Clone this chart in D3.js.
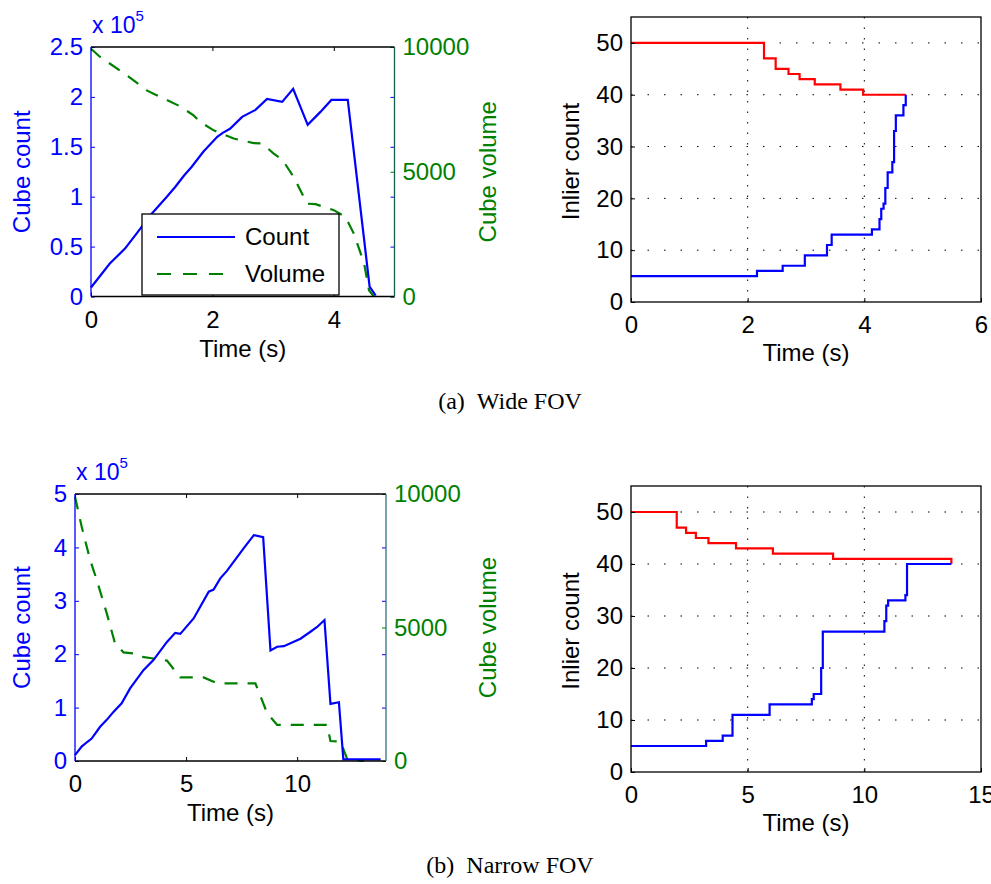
<!DOCTYPE html>
<meta charset="utf-8">
<style>
body { margin: 0; background: #fff; }
text { font-family: "Liberation Sans", Arial, sans-serif; }
.caption { font-family: "Liberation Serif", "Times New Roman", serif; font-size: 24px; }
</style>
<body>
<script src="https://d3js.org/d3.v7.min.js"></script>
<script>

// ---- data ----
// (a) wide FOV, cube count (x 10^5) and cube volume over time
var countTimeA = [0, 0.31, 0.56, 0.75, 1.0, 1.25, 1.39, 1.53, 1.66, 1.85, 2.08, 2.17, 2.29, 2.49, 2.71, 2.9, 3.15, 3.33, 3.57, 3.78, 3.96, 4.23, 4.59, 4.69];
var countA = [0.09, 0.33, 0.48, 0.63, 0.83, 1.0, 1.1, 1.21, 1.3, 1.45, 1.6, 1.64, 1.68, 1.8, 1.87, 1.98, 1.95, 2.08, 1.72, 1.85, 1.97, 1.97, 0.1, 0.01];
var volTimeA = [0, 0.15, 0.59, 0.92, 1.03, 1.47, 1.69, 1.8, 2.02, 2.35, 2.68, 2.82, 3.01, 3.15, 3.34, 3.56, 3.7, 4.0, 4.19, 4.33, 4.5, 4.58, 4.66];
var volA = [9930, 9600, 8870, 8260, 8130, 7620, 7260, 7000, 6660, 6330, 6150, 6130, 5730, 5490, 4790, 3720, 3700, 3460, 3190, 2520, 1320, 250, 0];

// (a) inlier counts (step after)
var redTimeB = [0, 2.28, 2.48, 2.70, 2.89, 3.15, 3.59, 3.98, 4.71];
var redB = [50, 47, 45, 44, 43, 42, 41, 40, 40];
var blueTimeB = [0, 2.16, 2.60, 2.98, 3.36, 3.44, 4.13, 4.26, 4.29, 4.33, 4.36, 4.40, 4.48, 4.51, 4.54, 4.67, 4.71];
var blueB = [5, 6, 7, 9, 11, 13, 14, 16, 18, 19, 22, 25, 27, 33, 36, 38, 40];

// (b) narrow FOV, cube count (x 10^5) and cube volume
var countTimeC = [0, 0.3, 0.56, 0.75, 1.13, 1.43, 1.73, 2.1, 2.48, 3.08, 3.53, 4.14, 4.51, 4.74, 5.34, 6.02, 6.24, 6.54, 6.84, 7.59, 8.05, 8.47, 8.8, 9.1, 9.4, 10.15, 10.6, 10.9, 11.23, 11.5, 11.88, 12.08, 13.76];
var countC = [0.11, 0.27, 0.36, 0.42, 0.64, 0.77, 0.92, 1.08, 1.36, 1.7, 1.89, 2.23, 2.4, 2.38, 2.67, 3.17, 3.21, 3.42, 3.56, 3.98, 4.23, 4.19, 2.07, 2.14, 2.15, 2.29, 2.42, 2.51, 2.64, 1.07, 1.1, 0.03, 0.03];
var volTimeC = [0, 0.3, 0.68, 0.98, 1.43, 1.8, 2.18, 2.63, 2.93, 3.68, 4.14, 4.74, 5.79, 6.39, 8.12, 8.65, 9.1, 11.35, 11.5, 11.95, 12.26, 13.0];
var volC = [9900, 8780, 7530, 6780, 5530, 4410, 4070, 4030, 3910, 3820, 3760, 3130, 3130, 2910, 2910, 1790, 1350, 1350, 750, 725, 60, 0];

// (b) inlier counts (step after)
var redTimeD = [0, 1.96, 2.36, 2.78, 3.32, 4.50, 6.08, 8.66, 13.73];
var redD = [50, 47, 46, 45, 44, 43, 42, 41, 40];
var blueTimeD = [0, 3.22, 3.93, 4.35, 5.94, 7.75, 7.83, 8.15, 8.22, 10.86, 10.94, 11.02, 11.76, 11.83, 13.73];
var blueD = [5, 6, 7, 11, 13, 14, 15, 20, 27, 29, 32, 33, 34, 40, 40];

// tick labels
var ticksXA = [0, 2, 4], ticksCountA = [0, 0.5, 1, 1.5, 2, 2.5];
var ticksXB = [0, 2, 4, 6], ticksInlier = [0, 10, 20, 30, 40, 50];
var ticksXC = [0, 5, 10], ticksCountC = [0, 1, 2, 3, 4, 5];
var ticksXD = [0, 5, 10, 15];
var ticksVol = [0, 5000, 10000];
var legendNames = ["Count", "Volume"];
var captions = ["(a)\u2002Wide FOV", "(b)\u2002Narrow FOV"];

var BLUE = "#0000ff", GREEN = "#008000", RED = "#ff0000";

var svg = d3.select("body").append("svg")
    .attr("width", 991)
    .attr("height", 884);

function zip(a, b) { return a.map(function(v, i) { return [v, b[i]]; }); }

function styleAxis(g, color) {
  g.select(".domain").remove();
  g.selectAll("line").attr("stroke", color);
  g.selectAll("text").attr("fill", color).attr("font-size", "24px")
    .attr("font-family", "Liberation Sans, Arial, sans-serif");
}

// ---- dual-axis panel (cube count / volume) ----
function dualPanel(box, xMax, xt, yMax, yt, tA, cA, tV, vA, rightColor, withLegend) {
  var w = box.r - box.l, h = box.b - box.t;
  var g = svg.append("g").attr("transform", "translate(" + box.l + "," + box.t + ")");
  var x = d3.scaleLinear().domain([0, xMax]).range([0, w]);
  var y = d3.scaleLinear().domain([0, yMax]).range([h, 0]);
  var y2 = d3.scaleLinear().domain([0, 10000]).range([h, 0]);

  var line = d3.line().x(function(d) { return x(d[0]); }).y(function(d) { return y(d[1]); });
  var line2 = d3.line().x(function(d) { return x(d[0]); }).y(function(d) { return y2(d[1]); });

  g.append("path").datum(zip(tV, vA)).attr("d", line2)
    .attr("fill", "none").attr("stroke", GREEN).attr("stroke-width", 2.2).attr("stroke-dasharray", "13,10");
  g.append("path").datum(zip(tA, cA)).attr("d", line)
    .attr("fill", "none").attr("stroke", BLUE).attr("stroke-width", 2.2);

  // axes
  g.append("g").attr("transform", "translate(0," + h + ")")
    .call(d3.axisBottom(x).tickValues(xt).tickSize(-4).tickPadding(14).tickFormat(d3.format("d")))
    .call(styleAxis, "#000");
  g.append("g").call(d3.axisTop(x).tickValues(xt).tickSize(-4).tickFormat(""))
    .call(styleAxis, "#000");
  g.append("g").call(d3.axisLeft(y).tickValues(yt).tickSize(-4).tickPadding(8).tickFormat(d3.format("")))
    .call(styleAxis, BLUE);
  g.append("g").attr("transform", "translate(" + w + ",0)")
    .call(d3.axisRight(y).tickValues(yt).tickSize(-4).tickFormat(""))
    .call(styleAxis, BLUE);
  g.append("g").attr("transform", "translate(" + w + ",0)")
    .call(d3.axisRight(y2).tickValues(ticksVol).tickSize(-4).tickPadding(8).tickFormat(d3.format("d")))
    .call(styleAxis, GREEN);

  // frame
  g.append("line").attr("x1", 0).attr("x2", w).attr("y1", 0).attr("y2", 0).attr("stroke", "#000").attr("stroke-width", 1.3);
  g.append("line").attr("x1", 0).attr("x2", w).attr("y1", h).attr("y2", h).attr("stroke", "#000").attr("stroke-width", 1.3);
  g.append("line").attr("x1", 0).attr("x2", 0).attr("y1", 0).attr("y2", h).attr("stroke", BLUE).attr("stroke-width", 1.3);
  g.append("line").attr("x1", w).attr("x2", w).attr("y1", 0).attr("y2", h).attr("stroke", rightColor).attr("stroke-width", 1.3);

  // exponent
  var ex = g.append("text").attr("x", 1).attr("y", -14).attr("fill", BLUE).style("font-size", "23px");
  ex.append("tspan").text("x 10");
  ex.append("tspan").attr("dy", -12).style("font-size", "15px").text("5");

  // labels
  g.append("text").attr("x", w / 2).attr("y", h + 60).attr("text-anchor", "middle")
    .attr("font-size", "24px").text("Time (s)");
  g.append("text").attr("transform", "translate(" + (-box.l + 30) + "," + (h / 2) + ") rotate(-90)")
    .attr("text-anchor", "middle").attr("font-size", "24px").attr("fill", BLUE).text("Cube count");
  g.append("text").attr("transform", "translate(" + (496 - box.l) + "," + (h / 2) + ") rotate(-90)")
    .attr("text-anchor", "middle").attr("font-size", "24px").attr("fill", GREEN).text("Cube volume");

  if (withLegend) {
    var lg = g.append("g").attr("transform", "translate(" + (142 - box.l) + "," + (214 - box.t) + ")");
    lg.append("rect").attr("width", 197).attr("height", 81)
      .attr("fill", "#fff").attr("stroke", "#000").attr("stroke-width", 1.3);
    lg.append("line").attr("x1", 15).attr("x2", 93).attr("y1", 23).attr("y2", 23)
      .attr("stroke", BLUE).attr("stroke-width", 2.2);
    lg.append("line").attr("x1", 15).attr("x2", 93).attr("y1", 60).attr("y2", 60)
      .attr("stroke", GREEN).attr("stroke-width", 2.2).attr("stroke-dasharray", "14,12");
    lg.selectAll(".lt").data(legendNames).enter().append("text")
      .attr("x", 103).attr("y", function(d, i) { return 23 + i * 37; }).attr("dy", "0.35em")
      .attr("font-size", "24px").text(function(d) { return d; });
  }
}

// ---- inlier step panel ----
function stepPanel(box, xMax, xt, tR, rV, tB, bV) {
  var w = box.r - box.l, h = box.b - box.t;
  var g = svg.append("g").attr("transform", "translate(" + box.l + "," + box.t + ")");
  var x = d3.scaleLinear().domain([0, xMax]).range([0, w]);
  var y = d3.scaleLinear().domain([0, 55]).range([h, 0]);

  // dotted grid
  g.selectAll(".gx").data(xt.filter(function(d) { return d > 0 && d < xMax; })).enter().append("line")
    .attr("x1", x).attr("x2", x).attr("y1", 0).attr("y2", h)
    .attr("stroke", "#000").attr("stroke-width", 1).attr("stroke-dasharray", "1.5,9");
  g.selectAll(".gy").data(ticksInlier.filter(function(d) { return d > 0; })).enter().append("line")
    .attr("x1", 0).attr("x2", w).attr("y1", y).attr("y2", y)
    .attr("stroke", "#000").attr("stroke-width", 1).attr("stroke-dasharray", "1.5,15");

  var line = d3.line().curve(d3.curveStepAfter)
    .x(function(d) { return x(d[0]); }).y(function(d) { return y(d[1]); });
  g.append("path").datum(zip(tR, rV)).attr("d", line)
    .attr("fill", "none").attr("stroke", RED).attr("stroke-width", 2.2);
  g.append("path").datum(zip(tB, bV)).attr("d", line)
    .attr("fill", "none").attr("stroke", BLUE).attr("stroke-width", 2.2);

  g.append("g").attr("transform", "translate(0," + h + ")")
    .call(d3.axisBottom(x).tickValues(xt).tickSize(-4).tickPadding(14).tickFormat(d3.format("d")))
    .call(styleAxis, "#000");
  g.append("g").call(d3.axisLeft(y).tickValues(ticksInlier).tickSize(-4).tickPadding(8))
    .call(styleAxis, "#000");
  g.append("rect").attr("width", w).attr("height", h)
    .attr("fill", "none").attr("stroke", "#000").attr("stroke-width", 1.3);

  g.append("text").attr("x", w / 2).attr("y", h + 59).attr("text-anchor", "middle")
    .attr("font-size", "24px").text("Time (s)");
  g.append("text").attr("transform", "translate(" + (579 - box.l) + "," + (h / 2 + 2) + ") rotate(-90)")
    .attr("text-anchor", "middle").attr("font-size", "24px").text("Inlier count");
}

dualPanel({l: 91, r: 394.5, t: 47, b: 296.5}, 5, ticksXA, 2.5, ticksCountA,
  countTimeA, countA, volTimeA, volA, "#12604f", true);
stepPanel({l: 631, r: 981, t: 17, b: 302}, 6, ticksXB, redTimeB, redB, blueTimeB, blueB);
dualPanel({l: 75, r: 386, t: 494, b: 761}, 14, ticksXC, 5, ticksCountC,
  countTimeC, countC, volTimeC, volC, "#2f6f7f", false);
stepPanel({l: 631, r: 981, t: 486, b: 772}, 15, ticksXD, redTimeD, redD, blueTimeD, blueD);

// captions
svg.selectAll(".caption").data(captions).enter().append("text")
  .attr("class", "caption")
  .attr("x", 510).attr("y", function(d, i) { return i == 0 ? 409 : 873; })
  .attr("text-anchor", "middle")
  .text(function(d) { return d; });

</script>
</body>
